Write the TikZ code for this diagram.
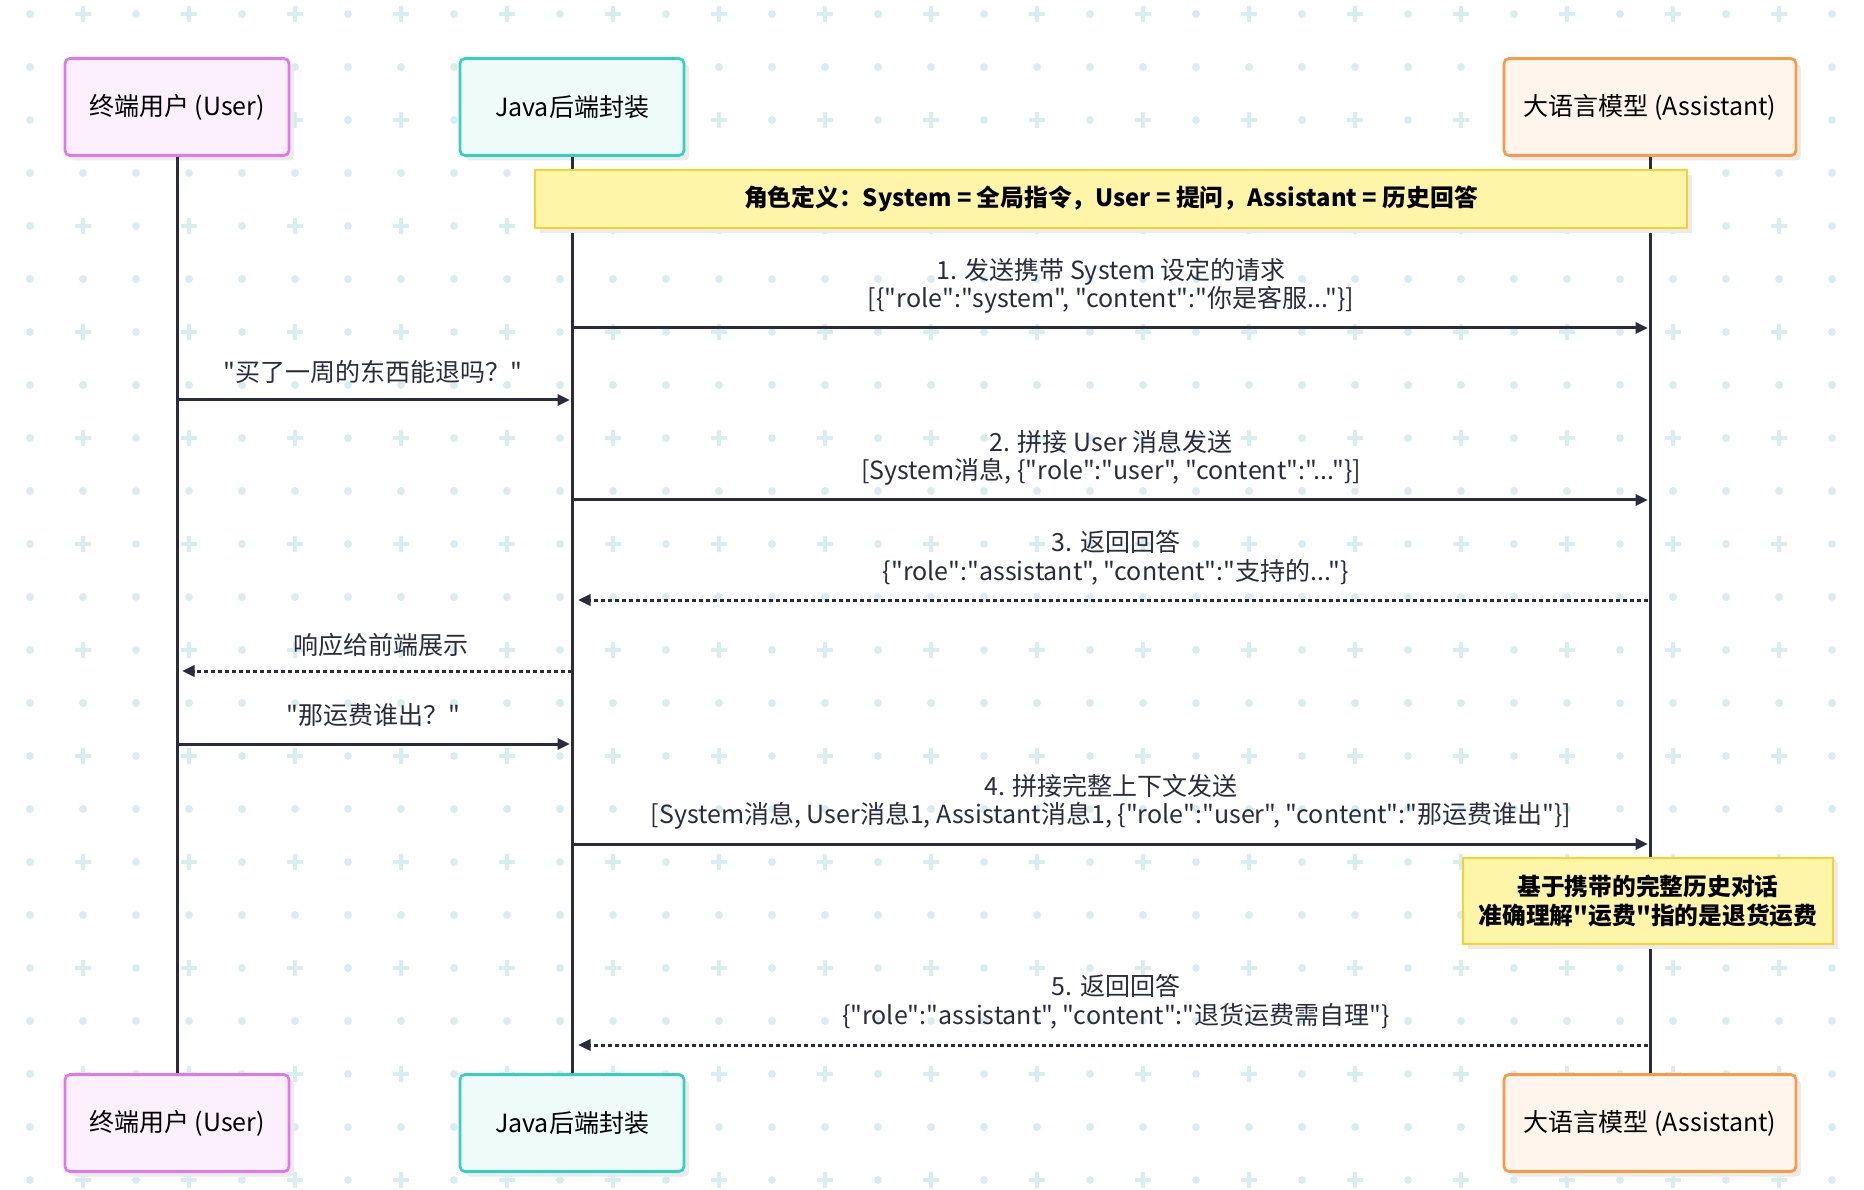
\documentclass[tikz,border=0pt]{standalone}
\usepackage{fontspec}
\setmainfont{Noto Sans CJK SC}[Ligatures=TeXOff]
\usetikzlibrary{arrows.meta,shadows}
\definecolor{ink}{HTML}{2B2B40}
\definecolor{grid}{HTML}{D6EEF0}
\definecolor{userfill}{HTML}{FDF0FD}
\definecolor{userdraw}{HTML}{E277EC}
\definecolor{javafill}{HTML}{EEFBF8}
\definecolor{javadraw}{HTML}{33D1BE}
\definecolor{asstfill}{HTML}{FFF5EC}
\definecolor{asstdraw}{HTML}{FB9A45}
\definecolor{notefill}{HTML}{FEF5A8}
\definecolor{notedraw}{HTML}{F8D12A}
\newcommand{\Q}{\char34\relax}
\begin{document}
\begin{tikzpicture}[
    x=0.4pt, y=-0.4pt,
    actor/.style={rectangle, rounded corners=2pt, line width=1.1pt, minimum width=89.6pt, minimum height=38.8pt,
      font=\fontsize{10}{12}\selectfont, drop shadow={shadow xshift=2pt, shadow yshift=-2pt, fill=black!8, opacity=1}},
    user/.style={actor, draw=userdraw, fill=userfill},
    java/.style={actor, draw=javadraw, fill=javafill},
    asst/.style={actor, draw=asstdraw, fill=asstfill, minimum width=116.8pt},
    note/.style={rectangle, draw=notedraw, fill=notefill, line width=1pt, align=center,
      font=\bfseries\fontsize{9.5}{11.4}\selectfont, drop shadow={shadow xshift=2pt, shadow yshift=-2pt, fill=black!8, opacity=1}},
    life/.style={ink, line width=1.2pt},
    msg/.style={ink, line width=1.2pt, -{Triangle[length=5pt,width=4.5pt]}},
    reply/.style={msg, dash pattern=on 1.6pt off 1.2pt},
    lbl/.style={align=center, text=ink, font=\fontsize{10}{11.4}\selectfont}
    ]
    \useasboundingbox (0,0) rectangle (1864,1190);

    %Background grid
    \foreach \i in {0,...,34} {
      \foreach \j in {0,...,22} {
        \pgfmathtruncatemacro{\plus}{and(isodd(\i),iseven(\j))}
        \ifnum\plus=1
          \draw[grid, line width=1.4pt] (30+53*\i-8,14+53*\j) -- ++(16,0) (30+53*\i,14+53*\j-8) -- ++(0,16);
        \else
          \fill[grid] (30+53*\i,14+53*\j) circle (1.6pt);
        \fi
      }
    }

    %Actors
    \node[user] at (177,107) (userTop) {终端用户 (User)};
    \node[java] at (572,107) (javaTop) {Java后端封装};
    \node[asst] at (1650,107) (asstTop) {大语言模型 (Assistant)};
    \node[user] at (177,1123) (userBot) {终端用户 (User)};
    \node[java] at (572,1123) (javaBot) {Java后端封装};
    \node[asst] at (1650,1123) (asstBot) {大语言模型 (Assistant)};

    %Lifelines
    \draw[life] (userTop) -- (userBot);
    \draw[life] (javaTop) -- (javaBot);
    \draw[life] (asstTop) -- (asstBot);

    %Notes
    \node[note, minimum width=460.8pt, minimum height=23.2pt] at (1111,199) (roles)
      {角色定义：System = 全局指令，User = 提问，Assistant = 历史回答};
    \node[note, minimum width=148pt, minimum height=34.4pt, inner xsep=2pt] at (1648,901) (context)
      {基于携带的完整历史对话\\准确理解\Q 运费\Q 指的是退货运费};

    %Message points
    \coordinate (j1) at (574,328);  \coordinate (a1) at (1648,328);
    \coordinate (u2) at (177,400);  \coordinate (j2) at (570,400);
    \coordinate (j3) at (574,500);  \coordinate (a3) at (1648,500);
    \coordinate (a4) at (1648,600); \coordinate (j4) at (578,600);
    \coordinate (j5) at (572,671);  \coordinate (u5) at (182,671);
    \coordinate (u6) at (177,744);  \coordinate (j6) at (570,744);
    \coordinate (j7) at (574,844);  \coordinate (a7) at (1648,844);
    \coordinate (a8) at (1648,1045);\coordinate (j8) at (578,1045);

    %Messages
    \draw[msg] (j1) -- (a1);
    \node[lbl] at (1111,286) (m1) {1. 发送携带 System 设定的请求\\\relax[\{\Q role\Q:\Q system\Q, \Q content\Q:\Q 你是客服...\Q\}]};
    \draw[msg] (u2) -- (j2);
    \node[lbl] at (373,372) (m2) {\Q 买了一周的东西能退吗？\Q};
    \draw[msg] (j3) -- (a3);
    \node[lbl] at (1111,458) (m3) {2. 拼接 User 消息发送\\\relax[System消息, \{\Q role\Q:\Q user\Q, \Q content\Q:\Q...\Q\}]};
    \draw[reply] (a4) -- (j4);
    \node[lbl] at (1116,558) (m4) {3. 返回回答\\\{\Q role\Q:\Q assistant\Q, \Q content\Q:\Q 支持的...\Q\}};
    \draw[reply] (j5) -- (u5);
    \node[lbl] at (381,645) (m5) {响应给前端展示};
    \draw[msg] (u6) -- (j6);
    \node[lbl] at (373,715) (m6) {\Q 那运费谁出？\Q};
    \draw[msg] (j7) -- (a7);
    \node[lbl] at (1111,802) (m7) {4. 拼接完整上下文发送\\\relax[System消息, User消息1, Assistant消息1, \{\Q role\Q:\Q user\Q, \Q content\Q:\Q 那运费谁出\Q\}]};
    \draw[reply] (a8) -- (j8);
    \node[lbl] at (1116,1002) (m8) {5. 返回回答\\\{\Q role\Q:\Q assistant\Q, \Q content\Q:\Q 退货运费需自理\Q\}};
\end{tikzpicture}
\end{document}
